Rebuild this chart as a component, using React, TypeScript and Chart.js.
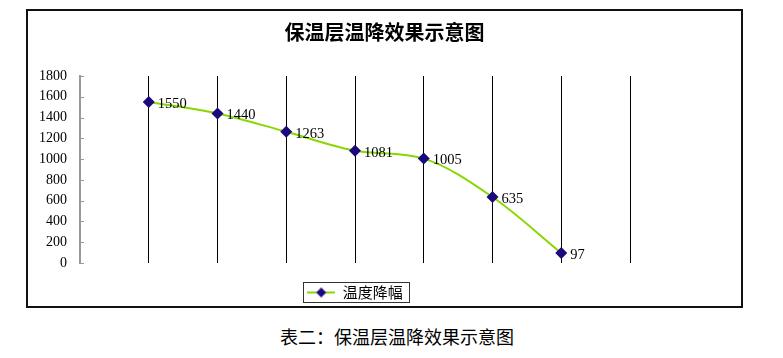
import React, { useEffect, useRef } from 'react';
import { Chart, registerables } from 'chart.js';

Chart.register(...registerables);

const chartTitle = '保温层温降效果示意图';
const caption = '表二：保温层温降效果示意图';
const seriesName = '温度降幅';
const slots = ['', '1', '2', '3', '4', '5', '6', '7', ''];
const temperatureDrop: (number | null)[] = [null, 1550, 1440, 1263, 1081, 1005, 635, 97, null];
const yMin = 0;
const yMax = 1800;
const yStep = 200;

const LINE_COLOR = '#88d800';
const MARKER_COLOR = '#1c0a7c';
const SERIF = "'Liberation Serif', 'Times New Roman', serif";
const CJK = "'Noto Sans CJK SC', sans-serif";

function makeLegendImage(): HTMLCanvasElement {
  const c = document.createElement('canvas');
  c.width = 28;
  c.height = 12;
  const ctx = c.getContext('2d')!;
  ctx.strokeStyle = LINE_COLOR;
  ctx.lineWidth = 2;
  ctx.beginPath();
  ctx.moveTo(0, 6);
  ctx.lineTo(28, 6);
  ctx.stroke();
  ctx.fillStyle = MARKER_COLOR;
  ctx.beginPath();
  ctx.moveTo(14, 1);
  ctx.lineTo(19, 6);
  ctx.lineTo(14, 11);
  ctx.lineTo(9, 6);
  ctx.closePath();
  ctx.fill();
  return c;
}

const innerTicksPlugin = {
  id: 'innerTicks',
  afterDraw(chart: any) {
    const y = chart.scales.y;
    const ctx = chart.ctx;
    ctx.save();
    ctx.strokeStyle = '#999';
    ctx.lineWidth = 1;
    const x0 = y.right;
    for (let v = yMin; v <= yMax; v += yStep) {
      const py = Math.round(y.getPixelForValue(v)) + 0.5;
      ctx.beginPath();
      ctx.moveTo(x0, py);
      ctx.lineTo(x0 + 4, py);
      ctx.stroke();
    }
    ctx.restore();
  },
};

const dataLabelPlugin = {
  id: 'dataLabels',
  afterDatasetsDraw(chart: any) {
    const ctx = chart.ctx;
    const meta = chart.getDatasetMeta(0);
    ctx.save();
    ctx.fillStyle = '#000';
    ctx.font = `14.5px ${SERIF}`;
    ctx.textAlign = 'left';
    ctx.textBaseline = 'middle';
    meta.data.forEach((pt: any, i: number) => {
      const v = temperatureDrop[i];
      if (v === null || v === undefined) return;
      ctx.fillText(String(v), pt.x + 9, pt.y + 2);
    });
    ctx.restore();
  },
};

const legendBorderPlugin = {
  id: 'legendBorder',
  afterDraw(chart: any) {
    const lg = chart.legend;
    if (!lg || !lg.legendHitBoxes || !lg.legendHitBoxes.length) return;
    const hb = lg.legendHitBoxes[0];
    const ctx = chart.ctx;
    ctx.save();
    ctx.strokeStyle = '#333';
    ctx.lineWidth = 1;
    const l = Math.round(hb.left - 4) + 0.5;
    const t = Math.round(hb.top - 3) + 0.5;
    const w = Math.round(hb.width + 10);
    const h = Math.round(hb.height + 5);
    ctx.strokeRect(l, t, w, h);
    ctx.restore();
  },
};

export default function App() {
  const canvasRef = useRef<HTMLCanvasElement | null>(null);

  useEffect(() => {
    if (!canvasRef.current) return;
    const legendImg = makeLegendImage();
    const chart = new Chart(canvasRef.current, {
      type: 'line',
      data: {
        labels: slots,
        datasets: [
          {
            label: seriesName,
            data: temperatureDrop,
            borderColor: LINE_COLOR,
            backgroundColor: MARKER_COLOR,
            borderWidth: 2,
            tension: 0.4,
            cubicInterpolationMode: 'monotone',
            pointStyle: 'rectRot',
            pointRadius: 6,
            pointBackgroundColor: MARKER_COLOR,
            pointBorderColor: MARKER_COLOR,
            pointBorderWidth: 0,
            spanGaps: false,
            yAxisID: 'y',
          } as any,
        ],
      },
      options: {
        animation: false,
        responsive: false,
        maintainAspectRatio: false,
        layout: { padding: { left: 0, right: 0, top: 0, bottom: 0 } },
        plugins: {
          title: {
            display: true,
            text: chartTitle,
            color: '#000',
            font: { family: CJK, size: 20, weight: 'bold' },
            padding: { top: 9, bottom: 32 },
          },
          legend: {
            display: true,
            position: 'bottom',
            fullSize: false,
            labels: {
              usePointStyle: true,
              pointStyle: legendImg as any,
              pointStyleWidth: 28,
              color: '#000',
              font: { family: CJK, size: 15 },
              padding: 3,
            },
          },
          tooltip: { enabled: false },
        },
        scales: {
          x: {
            type: 'category',
            offset: false,
            ticks: { display: false },
            grid: {
              color: (c: any) => (c.index === 0 ? 'rgba(0,0,0,0)' : '#000'),
              lineWidth: 1,
              drawTicks: false,
            },
            border: { display: false },
            afterFit: (scale: any) => {
              scale.height = 19;
            },
          },
          y: {
            min: yMin,
            max: yMax,
            ticks: {
              stepSize: yStep,
              color: '#000',
              font: { family: SERIF, size: 14 },
              padding: 13,
              callback: (v: any) => String(v),
            },
            grid: { drawOnChartArea: false, drawTicks: false },
            border: { display: true, color: '#999', width: 2 },
            afterFit: (scale: any) => {
              scale.width = 52;
            },
          },
          spacer: {
            type: 'linear',
            position: 'right',
            display: true,
            ticks: { display: false },
            grid: { display: false, drawTicks: false },
            border: { display: false },
            afterFit: (scale: any) => {
              scale.width = 111;
            },
          },
        },
      },
      plugins: [innerTicksPlugin, dataLabelPlugin, legendBorderPlugin],
    });
    return () => chart.destroy();
  }, []);

  return (
    <div style={{ position: 'fixed', left: 0, top: 0, width: 783, height: 358, background: '#fff' }}>
      <div
        style={{
          position: 'absolute',
          left: 26,
          top: 9,
          width: 717,
          height: 299,
          boxSizing: 'border-box',
          border: '2px solid #111',
        }}
      />
      <canvas
        ref={canvasRef}
        width={713}
        height={299}
        style={{ position: 'absolute', left: 28, top: 11, width: 713, height: 299 }}
      />
      <div
        style={{
          position: 'absolute',
          left: 280,
          top: 326,
          fontFamily: CJK,
          fontSize: 18,
          lineHeight: '20px',
          color: '#000',
          whiteSpace: 'nowrap',
        }}
      >
        {caption}
      </div>
    </div>
  );
}
